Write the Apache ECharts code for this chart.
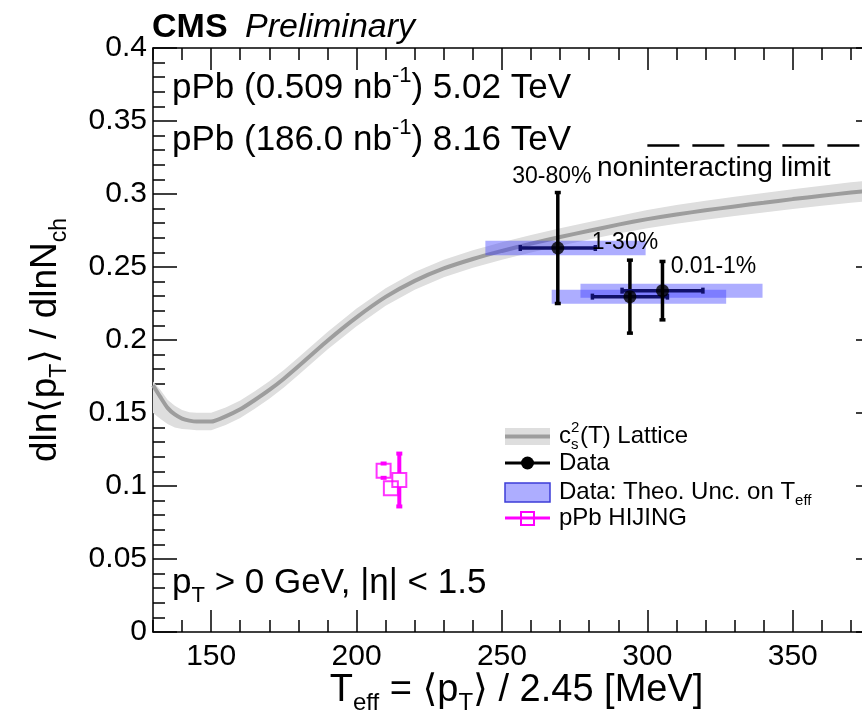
<!DOCTYPE html>
<html>
<head>
<meta charset="utf-8">
<script src="https://cdn.jsdelivr.net/npm/echarts@6/dist/echarts.min.js"></script>
<style>
  html, body { margin: 0; padding: 0; background: #fff; }
  #chart { width: 862px; height: 713px; }
</style>
</head>
<body>
<div id="chart"></div>
<script>
// Lattice QCD speed of sound squared, c_s^2(T): central curve and band
const latticeT   = [130, 132.5, 135, 137.5, 140, 142.5, 145, 150, 155, 160, 165, 170, 175, 180, 190, 200, 210, 220, 230, 240, 250, 260, 270, 280, 290, 300, 310, 320, 330, 340, 350, 360, 370, 380];
const latticeMid = [0.169, 0.161, 0.1535, 0.149, 0.1462, 0.1448, 0.1441, 0.1441, 0.1477, 0.1525, 0.1589, 0.1658, 0.1735, 0.182, 0.1995, 0.2155, 0.2295, 0.2405, 0.249, 0.2555, 0.261, 0.266, 0.2705, 0.2748, 0.279, 0.2828, 0.286, 0.2888, 0.2915, 0.294, 0.2965, 0.2988, 0.301, 0.303];
const latticeLo  = [0.150, 0.146, 0.1425, 0.140, 0.139, 0.1387, 0.1381, 0.1381, 0.1417, 0.1465, 0.1529, 0.1598, 0.1675, 0.176, 0.1935, 0.2095, 0.2235, 0.2345, 0.243, 0.2495, 0.255, 0.260, 0.2645, 0.2688, 0.273, 0.2766, 0.2796, 0.2823, 0.2849, 0.2873, 0.2897, 0.2919, 0.294, 0.296];
const latticeHi  = [0.1715, 0.166, 0.159, 0.155, 0.152, 0.1505, 0.1501, 0.1501, 0.1537, 0.1585, 0.1649, 0.1718, 0.1795, 0.188, 0.2055, 0.2215, 0.2355, 0.2465, 0.255, 0.2615, 0.267, 0.272, 0.2765, 0.2808, 0.285, 0.289, 0.2924, 0.2953, 0.2981, 0.3007, 0.3033, 0.3057, 0.308, 0.310];

// Noninteracting (conformal) limit c_s^2 = 1/3
const limitT = [300, 380];
const limitValue = 0.3333;

// Measured slopes per centrality class
const dataClasses  = ['30-80%', '1-30%', '0.01-1%'];
const dataTeff     = [269.2, 294.0, 305.2];
const dataSlope    = [0.263, 0.2297, 0.2338];
const dataErrT     = [12.9, 12.9, 13.9];
const dataErrSlope = [0.038, 0.025, 0.020];

// Theoretical uncertainty on Teff (boxes)
const theoTLow     = [244.3, 267.1, 277.0];
const theoTHigh    = [299.4, 327.1, 339.6];
const theoErrSlope = [0.005, 0.0048, 0.0048];

// HIJING pPb
const hijingTeff  = [209.3, 214.7, 211.8];
const hijingSlope = [0.1105, 0.1041, 0.0984];
const hijingErr   = [0.0049, 0.0181, 0.003];

// Axes
const xRange = [130, 380];
const yRange = [0, 0.4];
const xMajorTicks = [150, 200, 250, 300, 350];

// Label placement for the centrality tags (pixel offsets from each marker centre)
const classLabelOffsets = [[-6, -71], [-5, -54], [51, -24]];

const FONT = "'Liberation Sans', Arial, Helvetica, 'DejaVu Sans', sans-serif";
const INK = '#000';
const axisLine = { color: INK, width: 1.5 };
const DOT = 13;

const chart = echarts.init(document.getElementById('chart'), null, { renderer: 'canvas' });

function richStyles(size, lineFactor) {
  const lf = lineFactor || 1.35;
  return {
    m:   { fontSize: size, fontFamily: FONT, color: INK, lineHeight: Math.round(size * lf) },
    sub: { fontSize: Math.round(size * 0.62), fontFamily: FONT, color: INK, verticalAlign: 'bottom', lineHeight: Math.round(size * 0.62) },
    sup: { fontSize: Math.round(size * 0.62), fontFamily: FONT, color: INK, verticalAlign: 'top', lineHeight: Math.round(size * 0.62) }
  };
}

function frameX(pos, major) {
  const ax = {
    type: 'value', min: xRange[0], max: xRange[1], position: pos,
    axisLine: { show: major, onZero: false, lineStyle: axisLine },
    axisTick: { show: true, inside: true, length: major ? 22 : 12, lineStyle: axisLine },
    axisLabel: { show: false },
    splitLine: { show: false }
  };
  if (major) {
    ax.axisTick.customValues = xMajorTicks;
  } else {
    ax.interval = 10;
  }
  return ax;
}

function frameY(pos) {
  return {
    type: 'value', min: yRange[0], max: yRange[1], interval: 0.05, position: pos,
    axisLine: { show: true, onZero: false, lineStyle: axisLine },
    axisTick: { show: true, inside: true, length: 24, lineStyle: axisLine },
    minorTick: { show: true, splitNumber: 5, length: 12, lineStyle: axisLine },
    axisLabel: { show: false },
    splitLine: { show: false },
    minorSplitLine: { show: false }
  };
}

const xBottom = frameX('bottom', true);
xBottom.axisLabel = { show: true, customValues: xMajorTicks, fontSize: 30, fontFamily: FONT, color: INK, margin: 10 };
xBottom.name = '{m|T}{sub|eff}{m| = ⟨p}{sub|T}{m|⟩ / 2.45 [MeV]}';
xBottom.nameLocation = 'middle';
xBottom.nameGap = 35;
xBottom.nameMoveOverlap = false;
xBottom.nameTextStyle = { rich: richStyles(38, 1.25) };

const yLeft = frameY('left');
yLeft.axisLabel = { show: true, fontSize: 30, fontFamily: FONT, color: INK, margin: 6 };
yLeft.name = '{m|dln⟨p}{sub|T}{m|⟩ / dlnN}{sub|ch}';
yLeft.nameLocation = 'middle';
yLeft.nameRotate = 90;
yLeft.nameGap = 82;
yLeft.nameTextStyle = { rich: richStyles(37) };

const option = {
  animation: false,
  backgroundColor: '#fff',
  grid: { left: 153, right: -18, top: 48, bottom: 81, containLabel: false, outerBoundsMode: 'none' },
  xAxis: [xBottom, frameX('top', true), frameX('bottom', false), frameX('top', false)],
  yAxis: [yLeft, frameY('right')],
  series: [
    // lattice band
    {
      type: 'custom', silent: true, z: 1,
      data: [[latticeT[0], latticeMid[0]]],
      renderItem: function (params, api) {
        const pts = [];
        for (let i = 0; i < latticeT.length; i++) pts.push(api.coord([latticeT[i], latticeHi[i]]));
        for (let i = latticeT.length - 1; i >= 0; i--) pts.push(api.coord([latticeT[i], latticeLo[i]]));
        return { type: 'polygon', shape: { points: pts }, style: { fill: '#dedede' } };
      }
    },
    // lattice central curve
    {
      type: 'line', silent: true, z: 2, showSymbol: false, smooth: 0.2,
      data: latticeT.map((t, i) => [t, latticeMid[i]]),
      lineStyle: { color: '#9d9d9d', width: 4 }
    },
    // noninteracting limit
    {
      type: 'line', silent: true, z: 2, showSymbol: false,
      data: limitT.map(t => [t, limitValue]),
      lineStyle: { color: INK, width: 2.5, type: [32, 13] }
    },
    // theoretical uncertainty boxes
    {
      type: 'custom', silent: true, z: 3,
      data: dataSlope.map((s, i) => [theoTLow[i], theoTHigh[i], s, theoErrSlope[i]]),
      renderItem: function (params, api) {
        const p1 = api.coord([api.value(0), api.value(2) + api.value(3)]);
        const p2 = api.coord([api.value(1), api.value(2) - api.value(3)]);
        return { type: 'rect', shape: { x: p1[0], y: p1[1], width: p2[0] - p1[0], height: p2[1] - p1[1] },
                 style: { fill: 'rgba(60,60,255,0.42)' } };
      }
    },
    // data error bars
    {
      type: 'custom', silent: true, z: 4,
      data: dataTeff.map((t, i) => [t, dataSlope[i], dataErrT[i], dataErrSlope[i]]),
      renderItem: function (params, api) {
        const x = api.value(0), y = api.value(1), ex = api.value(2), ey = api.value(3);
        const top = api.coord([x, y + ey]), bot = api.coord([x, y - ey]);
        const lft = api.coord([x - ex, y]), rgt = api.coord([x + ex, y]);
        const v = { stroke: INK, lineWidth: 3.5 };
        const h = { stroke: '#10106a', lineWidth: 3.5 };
        return { type: 'group', children: [
          { type: 'line', shape: { x1: lft[0], y1: lft[1], x2: rgt[0], y2: rgt[1] }, style: h },
          { type: 'line', shape: { x1: lft[0], y1: lft[1] - 3, x2: lft[0], y2: lft[1] + 3 }, style: h },
          { type: 'line', shape: { x1: rgt[0], y1: rgt[1] - 3, x2: rgt[0], y2: rgt[1] + 3 }, style: h },
          { type: 'line', shape: { x1: top[0], y1: top[1], x2: bot[0], y2: bot[1] }, style: v },
          { type: 'line', shape: { x1: top[0] - 3, y1: top[1], x2: top[0] + 3, y2: top[1] }, style: v },
          { type: 'line', shape: { x1: bot[0] - 3, y1: bot[1], x2: bot[0] + 3, y2: bot[1] }, style: v }
        ] };
      }
    },
    // data markers with centrality tags
    {
      type: 'scatter', silent: true, z: 5, symbol: 'circle', symbolSize: DOT,
      itemStyle: { color: INK },
      data: dataTeff.map((t, i) => ({
        value: [t, dataSlope[i]],
        label: {
          show: true,
          position: [DOT / 2 + classLabelOffsets[i][0], DOT / 2 + classLabelOffsets[i][1]],
          align: 'center', verticalAlign: 'middle',
          formatter: dataClasses[i],
          fontSize: 23, fontFamily: FONT, color: '#000', textBorderWidth: 0, opacity: 1
        }
      }))
    },
    // HIJING error bars (drawn outside the marker)
    {
      type: 'custom', silent: true, z: 4,
      data: hijingTeff.map((t, i) => [t, hijingSlope[i], hijingErr[i]]),
      renderItem: function (params, api) {
        const x = api.value(0), y = api.value(1), e = api.value(2);
        const c = api.coord([x, y]);
        const top = api.coord([x, y + e]), bot = api.coord([x, y - e]);
        const half = 7;
        const st = { stroke: '#ff00ff', lineWidth: 4 };
        const kids = [];
        if (c[1] - top[1] >= half - 0.5) {
          if (c[1] - top[1] > half) kids.push({ type: 'line', shape: { x1: c[0], y1: top[1], x2: c[0], y2: c[1] - half }, style: st });
          if (bot[1] - c[1] > half) kids.push({ type: 'line', shape: { x1: c[0], y1: c[1] + half, x2: c[0], y2: bot[1] }, style: st });
          kids.push({ type: 'line', shape: { x1: c[0] - 3, y1: top[1], x2: c[0] + 3, y2: top[1] }, style: st });
          kids.push({ type: 'line', shape: { x1: c[0] - 3, y1: bot[1], x2: c[0] + 3, y2: bot[1] }, style: st });
        }
        return { type: 'group', children: kids };
      }
    },
    // HIJING markers
    {
      type: 'scatter', silent: true, z: 5, symbol: 'rect', symbolSize: 14,
      itemStyle: { color: 'rgba(0,0,0,0)', borderColor: '#ff00ff', borderWidth: 2 },
      data: hijingTeff.map((t, i) => [t, hijingSlope[i]])
    }
  ],
  graphic: [
    { type: 'text', x: 152, y: 28, style: { text: 'CMS', font: 'bold 34px ' + FONT, fill: INK, verticalAlign: 'middle' } },
    { type: 'text', x: 245, y: 28, style: { text: 'Preliminary', font: 'italic 34px ' + FONT, fill: INK, verticalAlign: 'middle' } },
    { type: 'text', x: 172, y: 88, style: { text: '{m|pPb (0.509 nb}{sup|-1}{m|) 5.02 TeV}', rich: richStyles(35), verticalAlign: 'middle' } },
    { type: 'text', x: 172, y: 140, style: { text: '{m|pPb (186.0 nb}{sup|-1}{m|) 8.16 TeV}', rich: richStyles(35), verticalAlign: 'middle' } },
    { type: 'text', x: 597, y: 168, style: { text: 'noninteracting limit', font: '28px ' + FONT, fill: INK, verticalAlign: 'middle' } },
    { type: 'text', x: 172, y: 583, style: { text: '{m|p}{sub|T}{m| > 0 GeV, |η| < 1.5}', rich: richStyles(35), verticalAlign: 'middle' } },

    // legend
    { type: 'rect', shape: { x: 505, y: 428, width: 45, height: 17 }, style: { fill: '#dedede' } },
    { type: 'line', shape: { x1: 505, y1: 436.5, x2: 550, y2: 436.5 }, style: { stroke: '#9d9d9d', lineWidth: 4 } },
    { type: 'text', x: 559, y: 436, style: { text: 'c', font: '24px ' + FONT, fill: INK, verticalAlign: 'middle' } },
    { type: 'text', x: 571, y: 428, style: { text: '2', font: '15px ' + FONT, fill: INK, verticalAlign: 'middle' } },
    { type: 'text', x: 571, y: 445, style: { text: 's', font: '15px ' + FONT, fill: INK, verticalAlign: 'middle' } },
    { type: 'text', x: 580, y: 436, style: { text: '(T) Lattice', font: '24px ' + FONT, fill: INK, verticalAlign: 'middle' } },

    { type: 'line', shape: { x1: 505, y1: 463, x2: 550, y2: 463 }, style: { stroke: INK, lineWidth: 3 } },
    { type: 'circle', shape: { cx: 527.5, cy: 463, r: 6.5 }, style: { fill: INK } },
    { type: 'text', x: 559, y: 463, style: { text: 'Data', font: '24px ' + FONT, fill: INK, verticalAlign: 'middle' } },

    { type: 'rect', shape: { x: 505, y: 483, width: 45, height: 19 }, style: { fill: 'rgba(60,60,255,0.42)', stroke: '#3c3cd8', lineWidth: 1.5 } },
    { type: 'text', x: 559, y: 492, style: { text: '{m|Data: Theo. Unc. on T}{sub|eff}', rich: richStyles(24), verticalAlign: 'middle' } },

    { type: 'line', shape: { x1: 505, y1: 518, x2: 550, y2: 518 }, style: { stroke: '#ff00ff', lineWidth: 3 } },
    { type: 'rect', shape: { x: 521, y: 512, width: 13, height: 13 }, style: { fill: 'rgba(0,0,0,0)', stroke: '#ff00ff', lineWidth: 2 } },
    { type: 'text', x: 559, y: 518, style: { text: 'pPb HIJING', font: '24px ' + FONT, fill: INK, verticalAlign: 'middle' } }
  ]
};

chart.setOption(option);
</script>
</body>
</html>
